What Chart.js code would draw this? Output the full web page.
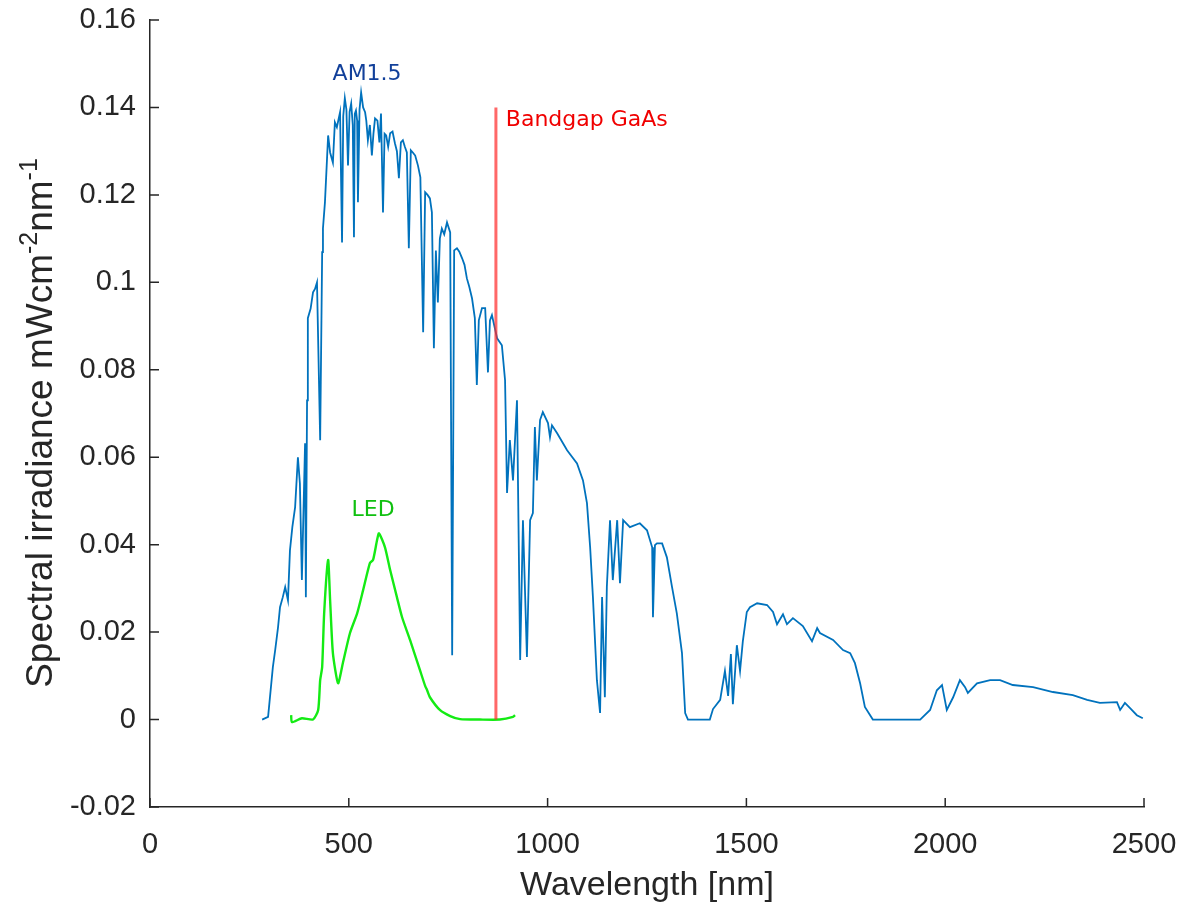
<!DOCTYPE html>
<html>
<head>
<meta charset="utf-8">
<script src="https://cdn.jsdelivr.net/npm/chart.js@4.4.1/dist/chart.umd.min.js"></script>
<style>
html, body { margin: 0; padding: 0; background: #fff; }
#spectrum { display: block; }
</style>
</head>
<body>
<canvas id="spectrum" width="1189" height="909"></canvas>
<script>
// AM1.5 spectrum (nm, mW cm^-2 nm^-1)
const am15Wavelength = [282, 297, 309, 315, 322, 327, 334, 340, 347, 352, 358, 365, 372, 377, 382, 390, 392, 395, 397, 404,
    410, 415, 420, 428, 433, 435, 440, 448, 453, 460, 465, 470, 478, 483, 486, 490, 494, 498, 502, 506,
    510, 513, 515, 518, 521, 523, 527, 531, 536, 541, 544, 548, 553, 558, 562, 566, 572, 577, 581, 586,
    590, 594, 599, 604, 610, 616, 621, 626, 631, 636, 641, 646, 651, 656, 661, 667, 674, 680, 687, 692,
    698, 704, 709, 714, 719, 724, 729, 734, 740, 747, 755, 760, 765, 772, 778, 785, 791, 797, 803, 810,
    817, 822, 827, 835, 843, 850, 855, 860, 873, 885, 893, 898, 905, 913, 923,
    931, 938, 948, 956, 963, 968, 973, 981, 988, 1001, 1006, 1011, 1024, 1049, 1074, 1089, 1099, 1107, 1114, 1124,
    1132, 1137, 1144, 1149, 1157, 1164, 1175, 1182, 1190, 1207, 1232, 1250, 1263, 1265, 1270, 1275, 1288, 1300, 1313, 1325,
    1338, 1346, 1353, 1408, 1416, 1434, 1446, 1454, 1461, 1466, 1476, 1484, 1491, 1501, 1509, 1527, 1552, 1567, 1577, 1592,
    1602, 1617, 1642, 1665, 1678, 1685, 1718, 1743, 1761, 1773, 1786, 1798, 1818, 1937, 1962, 1979, 1992, 2004, 2020, 2037,
    2050, 2057, 2080, 2113, 2138, 2170, 2221, 2271, 2321, 2357, 2389, 2432, 2440, 2452, 2465, 2482, 2497];
const am15Irradiance = [0.0000, 0.0006, 0.0120, 0.0160, 0.0211, 0.0257, 0.0280, 0.0303, 0.0273, 0.0387, 0.0440, 0.0486, 0.0600, 0.0540, 0.0319, 0.0632, 0.0280, 0.0730, 0.0918, 0.0940,
    0.0977, 0.0985, 0.1000, 0.0639, 0.1069, 0.1123, 0.1183, 0.1336, 0.1297, 0.1274, 0.1366, 0.1355, 0.1389, 0.1091, 0.1380, 0.1421, 0.1395, 0.1267, 0.1390, 0.1409,
    0.1360, 0.1103, 0.1385, 0.1393, 0.1370, 0.1183, 0.1395, 0.1434, 0.1400, 0.1389, 0.1370, 0.1325, 0.1360, 0.1290, 0.1340, 0.1375, 0.1370, 0.1320, 0.1386, 0.1160,
    0.1340, 0.1336, 0.1310, 0.1341, 0.1345, 0.1318, 0.1300, 0.1238, 0.1320, 0.1325, 0.1310, 0.1297, 0.1078, 0.1302, 0.1297, 0.1290, 0.1267, 0.1240, 0.0886, 0.1206,
    0.1200, 0.1192, 0.1160, 0.0849, 0.1073, 0.0954, 0.1100, 0.1123, 0.1110, 0.1137, 0.1114, 0.0147, 0.1073, 0.1078, 0.1070, 0.1055, 0.1040, 0.1009, 0.0990, 0.0963,
    0.0918, 0.0765, 0.0913, 0.0941, 0.0941, 0.0794, 0.0913, 0.0925, 0.0872, 0.0856, 0.0776, 0.0518, 0.0639, 0.0547, 0.0730,
    0.0136, 0.0456, 0.0143, 0.0456, 0.0472, 0.0669, 0.0547, 0.0685, 0.0703, 0.0678, 0.0646, 0.0673, 0.0655, 0.0616, 0.0586, 0.0547, 0.0495, 0.0394, 0.0280, 0.0090,
    0.0015, 0.0280, 0.0051, 0.0303, 0.0456, 0.0319, 0.0456, 0.0312, 0.0456, 0.0440, 0.0449, 0.0433, 0.0394, 0.0234, 0.0399, 0.0403, 0.0403, 0.0371, 0.0303, 0.0243,
    0.0152, 0.0015, 0.0000, 0.0000, 0.0024, 0.0045, 0.0111, 0.0054, 0.0150, 0.0035, 0.0170, 0.0111, 0.0179, 0.0246, 0.0257, 0.0266, 0.0262, 0.0246, 0.0218, 0.0241,
    0.0218, 0.0232, 0.0214, 0.0179, 0.0209, 0.0198, 0.0182, 0.0159, 0.0152, 0.0129, 0.0083, 0.0029, 0.0000, 0.0000, 0.0022, 0.0067, 0.0079, 0.0022, 0.0051, 0.0090,
    0.0074, 0.0061, 0.0083, 0.0090, 0.0090, 0.0079, 0.0074, 0.0063, 0.0056, 0.0045, 0.0038, 0.0040, 0.0022, 0.0038, 0.0026, 0.0010, 0.0003];

// LED emission
const ledWavelength = [355, 357, 382, 410, 423, 428, 433, 438, 448, 453, 460, 473, 485, 503, 521, 536, 553, 561, 571, 576,
    591, 604, 621, 634, 654, 679, 692, 697, 704, 729, 755, 780, 830, 880, 913, 918];
const ledIrradiance = [0.0010, -0.0006, 0.0003, 0.0000, 0.0022, 0.0090, 0.0120, 0.0243, 0.0365, 0.0273, 0.0152, 0.0083, 0.0129, 0.0198, 0.0243, 0.0296, 0.0358, 0.0365, 0.0410, 0.0426,
    0.0394, 0.0342, 0.0280, 0.0234, 0.0182, 0.0113, 0.0077, 0.0067, 0.0051, 0.0022, 0.0008, 0.0001, 0.0000, 0.0000, 0.0006, 0.0010];

// GaAs bandgap marker
const bandgapWavelength = [870, 870];
const bandgapLevel = [0, 0.14];

const xTicks = [0, 500, 1000, 1500, 2000, 2500];
const xTickLabels = ['0', '500', '1000', '1500', '2000', '2500'];
const yTicks = [-0.02, 0, 0.02, 0.04, 0.06, 0.08, 0.1, 0.12, 0.14, 0.16];
const yTickLabels = ['-0.02', '0', '0.02', '0.04', '0.06', '0.08', '0.1', '0.12', '0.14', '0.16'];

const axisColor = '#262626';
const sansFont = '"Liberation Sans", Arial, Helvetica, sans-serif';
const labelFont = '"DejaVu Sans", Verdana, sans-serif';

const toPoints = (xs, ys) => xs.map((x, i) => ({ x: x, y: ys[i] }));

// text notes placed in data units
const notes = [
    { text: 'AM1.5', x: 546, y: 0.1462, color: '#12409a', align: 'center' },
    { text: 'LED', x: 561, y: 0.0465, color: '#10c010', align: 'center' },
    { text: 'Bandgap GaAs', x: 895, y: 0.1357, color: '#f00000', align: 'left' }
];

const axisDecor = {
    id: 'axisDecor',
    afterDraw(chart) {
        const ctx = chart.ctx;
        const a = chart.chartArea;
        const xs = chart.scales.x, ys = chart.scales.y;
        ctx.save();

        // MATLAB style inward ticks
        ctx.strokeStyle = axisColor;
        ctx.lineWidth = 1.5;
        ctx.beginPath();
        xTicks.forEach(v => {
            const px = xs.getPixelForValue(v);
            ctx.moveTo(px, a.bottom);
            ctx.lineTo(px, a.bottom - 9);
        });
        yTicks.forEach(v => {
            const py = ys.getPixelForValue(v);
            ctx.moveTo(a.left, py);
            ctx.lineTo(a.left + 9, py);
        });
        ctx.stroke();

        // x title
        ctx.fillStyle = axisColor;
        ctx.font = '34px ' + sansFont;
        ctx.textAlign = 'center';
        ctx.textBaseline = 'alphabetic';
        ctx.fillText('Wavelength [nm]', (a.left + a.right) / 2, 895);

        // y title with superscripts
        const parts = [
            { t: 'Spectral irradiance mWcm', sup: false },
            { t: '-2', sup: true },
            { t: 'nm', sup: false },
            { t: '-1', sup: true }
        ];
        const big = '37px ' + sansFont, small = '25px ' + sansFont;
        let total = 0;
        parts.forEach(p => {
            ctx.font = p.sup ? small : big;
            p.w = ctx.measureText(p.t).width;
            total += p.w;
        });
        ctx.translate(52, 423);
        ctx.rotate(-Math.PI / 2);
        ctx.textAlign = 'left';
        let cx = -total / 2;
        parts.forEach(p => {
            ctx.font = p.sup ? small : big;
            ctx.fillText(p.t, cx, p.sup ? -15 : 0);
            cx += p.w;
        });
        ctx.setTransform(1, 0, 0, 1, 0, 0);

        // notes
        ctx.font = '22px ' + labelFont;
        notes.forEach(n => {
            ctx.fillStyle = n.color;
            ctx.textAlign = n.align;
            ctx.fillText(n.text, xs.getPixelForValue(n.x), ys.getPixelForValue(n.y));
        });
        ctx.restore();
    }
};

new Chart(document.getElementById('spectrum').getContext('2d'), {
    type: 'line',
    data: {
        datasets: [{
            label: 'AM1.5',
            data: toPoints(am15Wavelength, am15Irradiance),
            borderColor: '#0072BD',
            borderWidth: 1.8,
            pointRadius: 0,
            tension: 0,
            order: 3
        }, {
            label: 'LED',
            data: toPoints(ledWavelength, ledIrradiance),
            borderColor: 'rgb(20,235,20)',
            borderWidth: 2.4,
            pointRadius: 0,
            tension: 0.2,
            order: 2
        }, {
            label: 'Bandgap GaAs',
            data: toPoints(bandgapWavelength, bandgapLevel),
            borderColor: 'rgba(255,40,40,0.7)',
            borderWidth: 3,
            pointRadius: 0,
            order: 1
        }]
    },
    options: {
        responsive: false,
        animation: false,
        devicePixelRatio: 1,
        layout: { padding: { top: 20, right: 45, left: 0, bottom: 0 } },
        plugins: { legend: { display: false }, tooltip: { enabled: false } },
        scales: {
            x: {
                type: 'linear',
                min: 0,
                max: 2500,
                afterBuildTicks: s => { s.ticks = xTicks.map(v => ({ value: v })); },
                afterFit: s => { s.height = 102; s.paddingLeft = 0; s.paddingRight = 0; },
                grid: { drawOnChartArea: false, drawTicks: false },
                border: { display: true, color: axisColor, width: 1.5 },
                ticks: {
                    padding: 21,
                    color: axisColor,
                    font: { family: sansFont, size: 29 },
                    maxRotation: 0,
                    callback: v => xTickLabels[xTicks.indexOf(v)]
                }
            },
            y: {
                type: 'linear',
                min: -0.02,
                max: 0.16,
                afterBuildTicks: s => { s.ticks = yTicks.map(v => ({ value: v })); },
                afterFit: s => { s.width = 150; s.paddingTop = 0; s.paddingBottom = 0; },
                grid: { drawOnChartArea: false, drawTicks: false },
                border: { display: true, color: axisColor, width: 1.5 },
                ticks: {
                    padding: 14,
                    color: axisColor,
                    font: { family: sansFont, size: 29 },
                    callback: v => yTickLabels[yTicks.findIndex(t => Math.abs(t - v) < 1e-9)]
                }
            }
        }
    },
    plugins: [axisDecor]
});
</script>
</body>
</html>
